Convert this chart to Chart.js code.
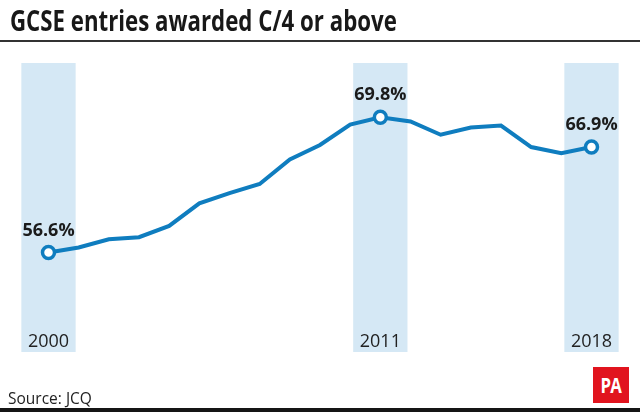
<!DOCTYPE html>
<html>
<head>
<meta charset="utf-8">
<script src="https://cdn.jsdelivr.net/npm/chart.js@4"></script>
<style>
    html, body { margin: 0; padding: 0; background: #fff; }
    body { width: 640px; height: 412px; position: relative; overflow: hidden; font-family: 'Open Sans', sans-serif; }
    #title { position: absolute; left: 10px; top: 1px; font-size: 28px; font-weight: 700; color: #181818; white-space: nowrap; transform-origin: 0 0; }
    #titleRule { position: absolute; left: 0; top: 40px; width: 640px; height: 2px; background: #333; }
    #chartWrap { position: absolute; left: 0; top: 0; width: 640px; height: 412px; }
    #source { position: absolute; left: 8px; top: 387px; font-size: 15.5px; color: #222; }
    #pa { position: absolute; left: 593px; top: 367px; width: 36px; height: 36px; background: #e1141e; color: #fff; font-weight: 700; font-size: 21px; text-align: center; line-height: 36px; letter-spacing: -1px; }
    #pa span { display: inline-block; transform: scaleX(0.8); }
    #bottomRule { position: absolute; left: 0; top: 408px; width: 640px; height: 4px; background: #151515; }
</style>
</head>
<body>
<div id="chartWrap"><canvas id="gcseChart" width="640" height="412"></canvas></div>
<div id="title">GCSE entries awarded C/4 or above</div>
<div id="titleRule"></div>
<div id="source">Source: JCQ</div>
<div id="pa"><span>PA</span></div>
<div id="bottomRule"></div>

<script>
// Data
const years = ['2000', '2001', '2002', '2003', '2004', '2005', '2006', '2007', '2008', '2009',
               '2010', '2011', '2012', '2013', '2014', '2015', '2016', '2017', '2018'];
const passRate = [56.6, 57.1, 57.9, 58.1, 59.2, 61.4, 62.4, 63.3, 65.7, 67.1,
                  69.1, 69.8, 69.4, 68.1, 68.8, 69.0, 66.9, 66.3, 66.9];
const highlightYears = ['2000', '2011', '2018'];
const yMin = 46.9;
const yMax = 75.1;

const lineBlue = '#0f7dbf';
const bandBlue = '#d5e8f5';

// squash the title to the width used in the original
const titleEl = document.getElementById('title');
titleEl.style.transform = 'scaleX(' + (387 / titleEl.offsetWidth) + ')';

const isHighlight = (i) => highlightYears.includes(years[i]);

// Floating bars for the shaded year bands
const bandData = years.map((y, i) => isHighlight(i) ? [yMin, yMax] : null);

// Year text and value labels drawn on top
const labelPlugin = {
    id: 'labelPlugin',
    afterDatasetsDraw(chart) {
        const ctx = chart.ctx;
        const xScale = chart.scales.x;
        const yScale = chart.scales.y;
        ctx.save();
        ctx.textAlign = 'center';
        ctx.textBaseline = 'middle';
        years.forEach((yr, i) => {
            if (!isHighlight(i)) return;
            const x = xScale.getPixelForValue(i);
            ctx.fillStyle = '#222';
            ctx.font = '18px "Open Sans"';
            ctx.fillText(yr, x, chart.chartArea.bottom - 10);
            ctx.font = 'bold 18px "Open Sans"';
            ctx.fillStyle = '#1b1b1b';
            ctx.fillText(passRate[i].toFixed(1) + '%', x, yScale.getPixelForValue(passRate[i]) - 22);
        });
        ctx.restore();
    }
};

function initChart() {
    const ctx = document.getElementById('gcseChart').getContext('2d');
    new Chart(ctx, {
        data: {
            labels: years,
            datasets: [{
                type: 'line',
                data: passRate,
                borderColor: lineBlue,
                borderWidth: 4,
                tension: 0,
                pointRadius: years.map((y, i) => isHighlight(i) ? 6 : 0),
                pointBorderWidth: 3.5,
                pointBorderColor: lineBlue,
                pointBackgroundColor: '#fff',
                clip: false,
                order: 1
            }, {
                type: 'bar',
                data: bandData,
                backgroundColor: bandBlue,
                borderWidth: 0,
                barPercentage: 1.8,
                categoryPercentage: 1,
                clip: false,
                order: 2
            }]
        },
        options: {
            responsive: false,
            animation: false,
            layout: { padding: { left: 48.5, right: 48.5, top: 63, bottom: 60 } },
            plugins: { legend: { display: false }, tooltip: { enabled: false } },
            scales: {
                x: { display: false, offset: false },
                y: { display: false, min: yMin, max: yMax }
            }
        },
        plugins: [labelPlugin]
    });
}

document.fonts.load('bold 18px "Open Sans"').then(initChart, initChart);
</script>
</body>
</html>
